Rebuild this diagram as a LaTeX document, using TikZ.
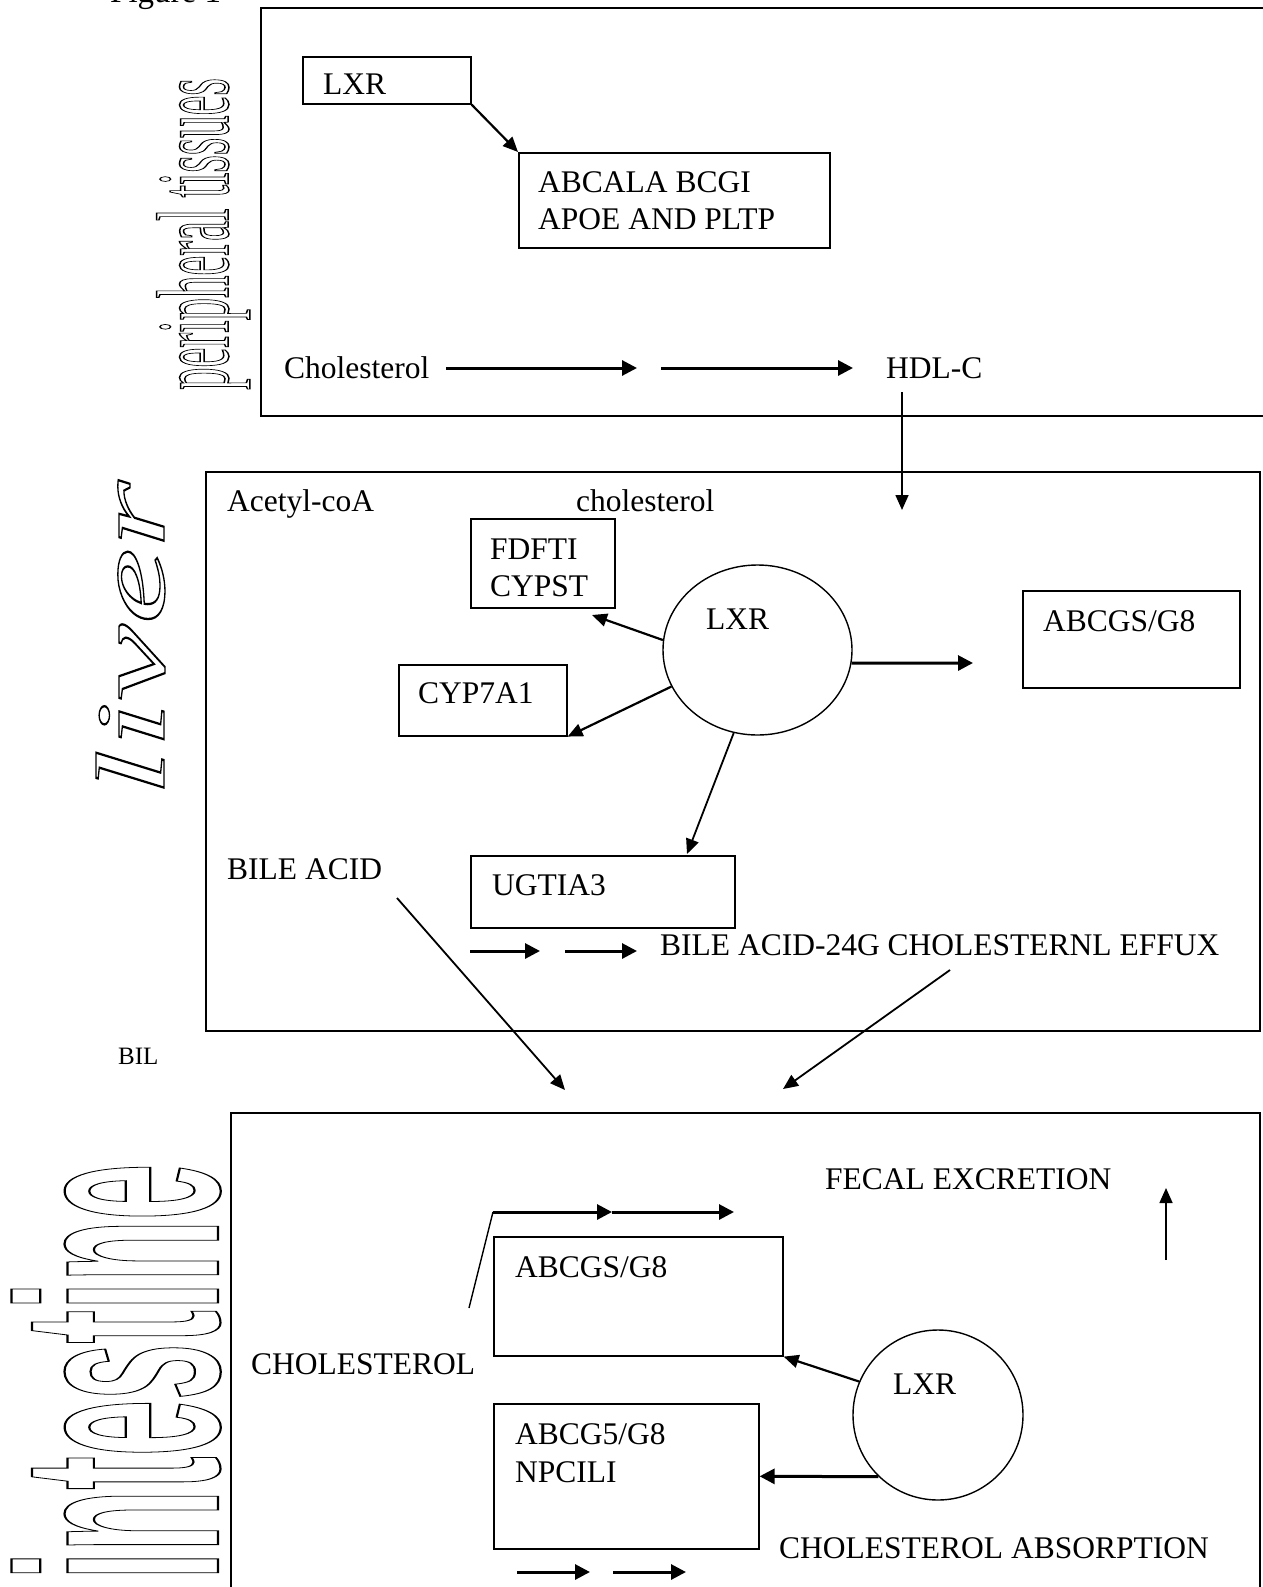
\documentclass[tikz,border=0pt]{standalone}
\usepackage{fontspec}
\setmainfont{Liberation Serif}
\newfontfamily\intfont{Liberation Sans}
\usetikzlibrary{arrows.meta,shapes.geometric}
\newcommand\outl[2]{\special{pdf:literal direct 1 Tr #1 w}#2\special{pdf:literal direct 0 Tr}}
\tikzset{
  txt/.style={anchor=base west, inner sep=0pt, font=\fontsize{31.5}{36}\selectfont},
  box/.style={draw, line width=1.6pt, inner sep=0pt, anchor=north west},
  arr/.style={line width=2.2pt, -{Triangle[length=15pt,width=13pt]}},
  tarr/.style={line width=3pt, -{Triangle[length=15pt,width=15pt]}},
  side/.style={rotate=90, anchor=base west, inner sep=0pt},
}
\begin{document}
\begin{tikzpicture}[x=1pt,y=-1pt]
\useasboundingbox (0,0) rectangle (1263,1587);
\fill[white] (0,0) rectangle (1263,1587);

% ---------- Figure label ----------
\node[txt, font=\fontsize{33}{36}\selectfont] (fig) at (110,2.5) {Figure 1};

% ---------- side labels ----------
\node[side] (lblpt) at (228,390) {\fontsize{103}{110}\selectfont\scalebox{0.434}[1]{\outl{1.5}{peripheral tissues}}};
\node[side] (lbllv) at (164,797) {\fontsize{98}{110}\selectfont\itshape\scalebox{1.76}[1]{\outl{1.3}{liver}}};
\node[side] (lblin) at (218,1580) {\intfont\bfseries\fontsize{285}{300}\selectfont\scalebox{0.355}[1]{\outl{2.2}{intestine}}};

% ---------- peripheral tissues ----------
\node[box, minimum width=1010, minimum height=408] (ptbox) at (260,7) {};
\node[box, minimum width=168, minimum height=47] (lxrt) at (302,56) {};
\node[txt] (lxrtt) at (323,95) {LXR};
\node[box, minimum width=311, minimum height=95] (abca) at (518,152) {};
\node[txt] (abca1) at (538,192) {ABCALA BCGI};
\node[txt] (abca2) at (538,229) {APOE AND PLTP};
\node[txt] (chol1) at (284,378) {Cholesterol};
\node[txt] (hdl) at (886,378) {HDL-C};
\coordinate (a1s) at (446,368); \coordinate (a1e) at (637,368);
\coordinate (a2s) at (661,368); \coordinate (a2e) at (853,368);
\coordinate (h1) at (902,392); \coordinate (h2) at (902,510);
\draw[arr] (lxrt.south east) -- (abca.north west);
\draw[tarr] (a1s) -- (a1e);
\draw[tarr] (a2s) -- (a2e);
\draw[arr, line width=1.6pt] (h1) -- (h2);

% ---------- liver ----------
\node[box, minimum width=1054, minimum height=559] (lvbox) at (205,471) {};
\node[txt] (acet) at (227,511) {Acetyl-coA};
\node[txt] (chol2) at (576,511) {cholesterol};
\node[box, minimum width=144, minimum height=89] (fdf) at (470,518) {};
\node[txt] (fdf1) at (490,559) {FDFTI};
\node[txt] (fdf2) at (490,596) {CYPST};
\node[box, minimum width=168, minimum height=71] (cyp) at (398,664) {};
\node[txt] (cypt) at (418,703) {CYP7A1};
\node[box, minimum width=217, minimum height=97] (abg1) at (1022,590) {};
\node[txt] (abg1t) at (1043,631) {ABCGS/G8};
\node[box, minimum width=264, minimum height=72] (ugt) at (470,855) {};
\node[txt] (ugtt) at (492,895) {UGTIA3};
\node[draw, ellipse, line width=1.4pt, minimum width=189, minimum height=170, inner sep=0pt] (lxr1) at (757.5,650) {};
\node[txt] (lxr1t) at (706,629) {LXR};
\node[txt] (bile) at (227,879) {BILE ACID};
\node[txt] (bile24) at (660,955) {BILE ACID-24G CHOLESTERNL EFFUX};
\node[txt, font=\fontsize{25}{30}\selectfont] (bil) at (118,1064) {BIL};

\coordinate (f1e) at (592,615);
\coordinate (g1e) at (973,663);
\coordinate (u1e) at (687,854);
\draw[arr] (lxr1.174) -- (f1e);
\draw[arr] (lxr1.203) -- (cyp.south east);
\draw[tarr] (lxr1.-8) -- (g1e);
\draw[arr, line width=1.8pt] (lxr1.254.5) -- (u1e);
\coordinate (b1s) at (470,951); \coordinate (b1e) at (540,951);
\coordinate (b2s) at (565,951); \coordinate (b2e) at (637,951);
\draw[tarr] (b1s) -- (b1e);
\draw[tarr] (b2s) -- (b2e);
\coordinate (d1s) at (397,898); \coordinate (d1e) at (565,1090);
\coordinate (d2s) at (950,970); \coordinate (d2e) at (783,1089);
\draw[arr, line width=1.8pt] (d1s) -- (d1e);
\draw[arr, line width=1.8pt] (d2s) -- (d2e);

% ---------- intestine ----------
\node[box, minimum width=1029, minimum height=483] (inbox) at (230,1112) {};
\node[txt] (fecal) at (825,1189) {FECAL EXCRETION};
\node[box, minimum width=289, minimum height=119] (abg2) at (493,1236) {};
\node[txt] (abg2t) at (515,1277) {ABCGS/G8};
\node[txt] (chol3) at (251,1374) {CHOLESTEROL};
\node[draw, circle, line width=1.4pt, minimum size=170, inner sep=0pt] (lxr2) at (938,1415) {};
\node[txt] (lxr2t) at (893,1394) {LXR};
\node[box, minimum width=265, minimum height=145] (abg5) at (493,1403) {};
\node[txt] (abg5a) at (515,1444) {ABCG5/G8};
\node[txt] (abg5b) at (515,1482) {NPCILI};
\node[txt] (absorp) at (779,1558) {CHOLESTEROL ABSORPTION};

\coordinate (p1) at (469,1308); \coordinate (p2) at (493,1212);
\coordinate (p3) at (612,1212); \coordinate (p4) at (734,1212);
\draw[line width=1.4pt] (p1) -- (p2);
\draw[tarr] (p2) -- (p3);
\draw[tarr] (p3) -- (p4);
\coordinate (u1) at (1166,1260); \coordinate (u2) at (1166,1188);
\draw[arr, line width=1.6pt] (u1) -- (u2);
\draw[arr] (lxr2.157) -- (abg2.south east);
\draw[tarr] (lxr2.226) -- (abg5.east);
\coordinate (e1s) at (517,1572); \coordinate (e1e) at (590,1572);
\coordinate (e2s) at (613,1572); \coordinate (e2e) at (686,1572);
\draw[tarr] (e1s) -- (e1e);
\draw[tarr] (e2s) -- (e2e);
\end{tikzpicture}
\end{document}
